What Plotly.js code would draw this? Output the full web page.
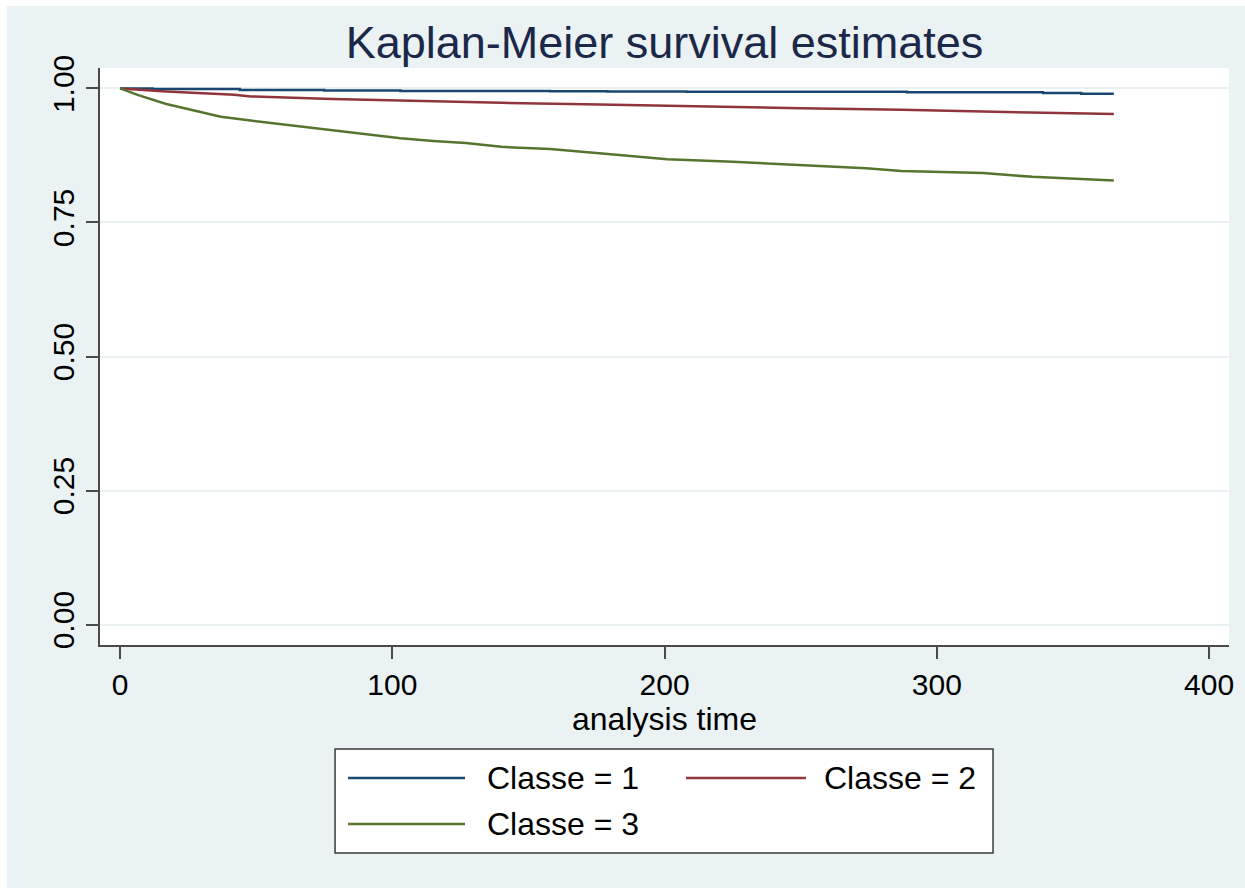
<!DOCTYPE html>
<html>
<head>
<meta charset="utf-8">
<script src="https://cdn.plot.ly/plotly-3.0.1.min.js"></script>
<style>
  html, body { margin: 0; padding: 0; background: #ffffff; }
  #chart { position: absolute; left: 7px; top: 6px; width: 1238px; height: 882px; }
</style>
</head>
<body>
<div id="chart"></div>
<script>
// Kaplan-Meier survival estimates by Classe (analysis time in days)
const class1Time = [0, 12, 44, 75, 103, 158, 179, 208, 289, 339, 353, 365];
const class1Surv = [1.000, 0.999, 0.997, 0.996, 0.995, 0.9945, 0.994, 0.9935, 0.993, 0.9915, 0.990, 0.990];

const class2Time = [0, 17, 42, 48, 78, 103, 140, 176, 213, 250, 287, 305, 342, 365];
const class2Surv = [1.000, 0.994, 0.988, 0.985, 0.980, 0.977, 0.973, 0.970, 0.966, 0.963, 0.960, 0.958, 0.955, 0.952];

const class3Time = [0, 7, 17, 29, 37, 48, 66, 78, 91, 103, 115, 127, 140, 158, 176, 201, 225, 250, 274, 287, 317, 335, 354, 365];
const class3Surv = [1.000, 0.987, 0.971, 0.957, 0.947, 0.940, 0.929, 0.923, 0.915, 0.907, 0.902, 0.898, 0.891, 0.887, 0.879, 0.868, 0.863, 0.857, 0.851, 0.846, 0.842, 0.835, 0.831, 0.828];

const seriesNames = ['Classe = 1', 'Classe = 2', 'Classe = 3'];
const seriesColors = ['#1A476F', '#90353B', '#55752F'];

const xTicks = [0, 100, 200, 300, 400];
const yTicks = [0, 0.25, 0.5, 0.75, 1];
const yTickText = ['0.00', '0.25', '0.50', '0.75', '1.00'];

const FONT = 'Liberation Sans, Arial, sans-serif';
const AXIS_COLOR = '#4a4a4a';

const traces = [
  { x: class1Time, y: class1Surv, shape: 'hv' },
  { x: class2Time, y: class2Surv, shape: 'linear' },
  { x: class3Time, y: class3Surv, shape: 'linear' }
].map((t, i) => ({
  type: 'scatter',
  mode: 'lines',
  name: seriesNames[i],
  x: t.x,
  y: t.y,
  line: { shape: t.shape, color: seriesColors[i], width: 2.5 },
  showlegend: false,
  hoverinfo: 'x+y+name'
}));

// Legend box drawn in paper coordinates below the plot area
const legendBox = { x0: 0.2082, x1: 0.7910, y0: -0.3605, y1: -0.1802 };
const legendRows = [-0.2305, -0.2305, -0.3102];
const legendSampleX = [[0.2197, 0.3233], [0.5190, 0.6253], [0.2197, 0.3233]];
const legendTextX = [0.3410, 0.6395, 0.3410];

const shapes = [{
  type: 'rect', xref: 'paper', yref: 'paper',
  x0: legendBox.x0, x1: legendBox.x1, y0: legendBox.y0, y1: legendBox.y1,
  fillcolor: '#ffffff', line: { color: '#3a3a3a', width: 1.5 }, layer: 'above'
}];
const annotations = [];
seriesNames.forEach((name, i) => {
  shapes.push({
    type: 'line', xref: 'paper', yref: 'paper',
    x0: legendSampleX[i][0], x1: legendSampleX[i][1],
    y0: legendRows[i], y1: legendRows[i],
    line: { color: seriesColors[i], width: 2.5 }, layer: 'above'
  });
  annotations.push({
    xref: 'paper', yref: 'paper', x: legendTextX[i], y: legendRows[i],
    xanchor: 'left', yanchor: 'middle', showarrow: false,
    text: name, font: { family: FONT, size: 32, color: '#000000' }
  });
});

const layout = {
  width: 1238,
  height: 882,
  paper_bgcolor: '#EAF2F3',
  plot_bgcolor: '#FFFFFF',
  margin: { l: 93, r: 16, t: 62, b: 243, pad: 0 },
  font: { family: FONT, color: '#000000', size: 30 },
  title: {
    text: 'Kaplan-Meier survival estimates',
    font: { family: FONT, size: 45, color: '#1C2848' },
    x: 0.5, xref: 'paper', xanchor: 'center',
    y: 1 - 36 / 882, yref: 'container', yanchor: 'middle'
  },
  xaxis: {
    range: [-7.35, 407.3],
    tickmode: 'array', tickvals: xTicks,
    ticks: 'outside', ticklen: 12, tickwidth: 1.5, tickcolor: AXIS_COLOR,
    showline: true, linecolor: AXIS_COLOR, linewidth: 1.5,
    showgrid: false, zeroline: false,
    tickfont: { family: FONT, size: 30, color: '#000000' },
    title: { text: 'analysis time', font: { family: FONT, size: 32, color: '#000000' }, standoff: 0 }
  },
  yaxis: {
    range: [-0.038, 1.038],
    tickmode: 'array', tickvals: yTicks, ticktext: yTickText,
    tickangle: -90,
    ticks: 'outside', ticklen: 12, tickwidth: 1.5, tickcolor: AXIS_COLOR,
    showline: true, linecolor: AXIS_COLOR, linewidth: 1.5,
    showgrid: true, gridcolor: '#E8F0F2', gridwidth: 1.5,
    zeroline: false,
    tickfont: { family: FONT, size: 30, color: '#000000' }
  },
  shapes: shapes,
  annotations: annotations,
  showlegend: false
};

Plotly.newPlot('chart', traces, layout, { displayModeBar: false });
</script>
</body>
</html>
